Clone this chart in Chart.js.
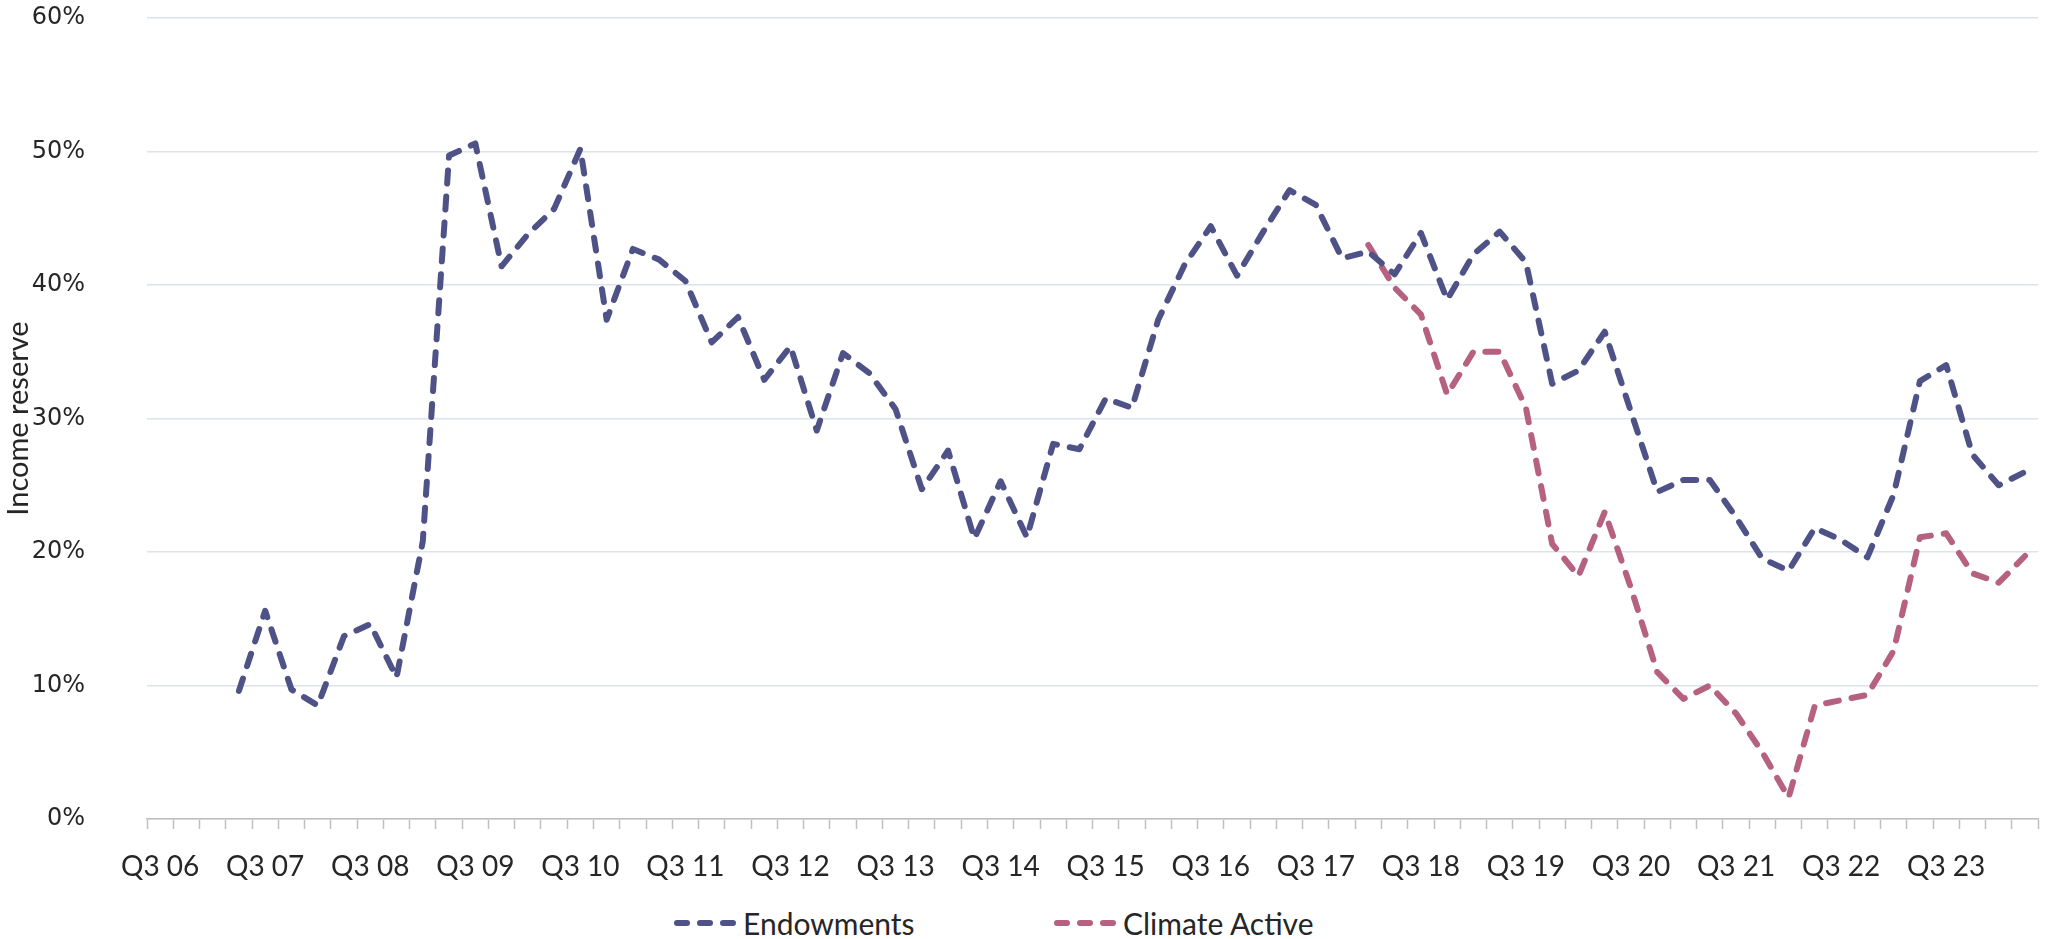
<!DOCTYPE html>
<html>
<head>
<meta charset="utf-8">
<title>Income reserve</title>
<script src="https://cdn.jsdelivr.net/npm/chart.js@4.4.1/dist/chart.umd.min.js"></script>
<style>
  html, body { margin: 0; padding: 0; background: #fff; }
  .wrap { position: relative; width: 2046px; height: 939px; overflow: hidden; }
  #chart { position: absolute; left: 0; top: 0; }
  .legend-item {
    position: absolute; top: 905px; display: flex; align-items: center;
    font-family: Lato, sans-serif; font-size: 30px; color: #262626; white-space: nowrap;
  }
  .legend-item svg { margin-right: 3px; }
</style>
</head>
<body>
<div class="wrap">
  <canvas id="chart" width="2046" height="895"></canvas>
  <div id="legend"></div>
</div>
<script>
// quarters, Q3 06 .. Q2 24
const quarters = [
  'Q3 06', 'Q4 06', 'Q1 07', 'Q2 07', 'Q3 07', 'Q4 07', 'Q1 08', 'Q2 08',
  'Q3 08', 'Q4 08', 'Q1 09', 'Q2 09', 'Q3 09', 'Q4 09', 'Q1 10', 'Q2 10',
  'Q3 10', 'Q4 10', 'Q1 11', 'Q2 11', 'Q3 11', 'Q4 11', 'Q1 12', 'Q2 12',
  'Q3 12', 'Q4 12', 'Q1 13', 'Q2 13', 'Q3 13', 'Q4 13', 'Q1 14', 'Q2 14',
  'Q3 14', 'Q4 14', 'Q1 15', 'Q2 15', 'Q3 15', 'Q4 15', 'Q1 16', 'Q2 16',
  'Q3 16', 'Q4 16', 'Q1 17', 'Q2 17', 'Q3 17', 'Q4 17', 'Q1 18', 'Q2 18',
  'Q3 18', 'Q4 18', 'Q1 19', 'Q2 19', 'Q3 19', 'Q4 19', 'Q1 20', 'Q2 20',
  'Q3 20', 'Q4 20', 'Q1 21', 'Q2 21', 'Q3 21', 'Q4 21', 'Q1 22', 'Q2 22',
  'Q3 22', 'Q4 22', 'Q1 23', 'Q2 23', 'Q3 23', 'Q4 23', 'Q1 24', 'Q2 24'
];

// income reserve, %
const endowments = [
  null, null, null, 9.6, 15.6, 9.7, 8.5, 13.7,
  14.6, 10.6, 20.8, 49.7, 50.6, 41.4, 43.8, 45.7,
  50.2, 37.4, 42.7, 41.9, 40.3, 35.7, 37.6, 32.9,
  35.4, 29.1, 34.9, 33.4, 30.7, 24.7, 27.6, 21.0,
  25.3, 21.1, 28.1, 27.7, 31.5, 30.8, 37.4, 41.5,
  44.4, 40.7, 44.0, 47.1, 46.0, 42.0, 42.5, 40.8,
  43.9, 38.9, 42.3, 44.0, 41.7, 32.6, 33.6, 36.5,
  30.5, 24.5, 25.4, 25.4, 22.6, 19.5, 18.6, 21.8,
  20.9, 19.6, 24.3, 32.8, 34.0, 27.3, 25.0, 26.0
];

const climateActive = [
  null, null, null, null, null, null, null, null,
  null, null, null, null, null, null, null, null,
  null, null, null, null, null, null, null, null,
  null, null, null, null, null, null, null, null,
  null, null, null, null, null, null, null, null,
  null, null, null, null, null, null, 43.0, 39.8,
  37.8, 31.8, 35.0, 35.0, 30.8, 20.6, 18.2, 23.0,
  17.3, 11.0, 9.0, 10.0, 7.9, 5.0, 1.6, 8.5,
  8.9, 9.3, 12.6, 21.1, 21.4, 18.4, 17.7, 19.7
];

const yTicks = [0, 10, 20, 30, 40, 50, 60];

const NAVY = '#4f5286';
const ROSE = '#b5617f';
const LINE_W = 6;
const LINE_DASH = [13, 13];
const LEGEND_DASH = [10, 13];

const datasets = [
  { label: 'Endowments', data: endowments, borderColor: NAVY },
  { label: 'Climate Active', data: climateActive, borderColor: ROSE },
].map(d => ({
  ...d,
  borderWidth: LINE_W,
  borderDash: LINE_DASH,
  borderCapStyle: 'round',
  borderJoinStyle: 'round',
  pointRadius: 0,
  tension: 0,
  fill: false,
  spanGaps: false,
}));

new Chart(document.getElementById('chart'), {
  type: 'line',
  data: { labels: quarters, datasets },
  options: {
    responsive: false,
    animation: false,
    devicePixelRatio: 1,
    layout: { padding: { top: 18, right: 4, left: 0, bottom: 0 } },
    plugins: { legend: { display: false }, tooltip: { enabled: false } },
    scales: {
      x: {
        type: 'category',
        offset: true,
        afterFit: (scale) => { scale.height = 76; },
        grid: {
          offset: true,
          drawOnChartArea: false,
          drawTicks: true,
          tickLength: 10,
          tickColor: '#bfbfbf',
          tickWidth: 1.5,
        },
        border: { display: true, color: '#bfbfbf', width: 1.5 },
        ticks: {
          autoSkip: false,
          maxRotation: 0,
          padding: 21,
          color: '#262626',
          font: { family: 'Lato', size: 28 },
          callback: function (value) {
            const q = this.getLabelForValue(value);
            return q.startsWith('Q3') ? q : '';
          },
        },
      },
      y: {
        min: 0,
        max: 60,
        afterFit: (scale) => {
          // tick padding pushes the plot down otherwise
          scale.width = 147;
          scale.paddingTop = 0;
          scale.paddingBottom = 0;
        },
        afterBuildTicks: (scale) => { scale.ticks = yTicks.map(v => ({ value: v })); },
        grid: { color: '#dbe3ec', lineWidth: 1.5, drawTicks: false },
        border: { display: false },
        ticks: {
          padding: 62,
          color: '#262626',
          font: { family: 'DejaVu Sans', size: 24 },
          callback: (v) => v + '%',
        },
        title: {
          display: true,
          text: 'Income reserve',
          color: '#262626',
          font: { family: 'Lato', size: 29 },
          padding: { top: 1, bottom: 0 },
        },
      },
    },
  },
});

// html legend, dashed samples like the lines
const legendLeft = [674, 1054];
const legendEl = document.getElementById('legend');
datasets.forEach((d, i) => {
  const item = document.createElement('div');
  item.className = 'legend-item';
  item.style.left = legendLeft[i] + 'px';
  item.innerHTML =
    '<svg width="66" height="12"><line x1="3" y1="6" x2="63" y2="6" stroke="' + d.borderColor +
    '" stroke-width="' + LINE_W + '" stroke-linecap="round" stroke-dasharray="' + LEGEND_DASH.join(' ') + '"/></svg>' +
    '<span>' + d.label + '</span>';
  legendEl.appendChild(item);
});
</script>
</body>
</html>
